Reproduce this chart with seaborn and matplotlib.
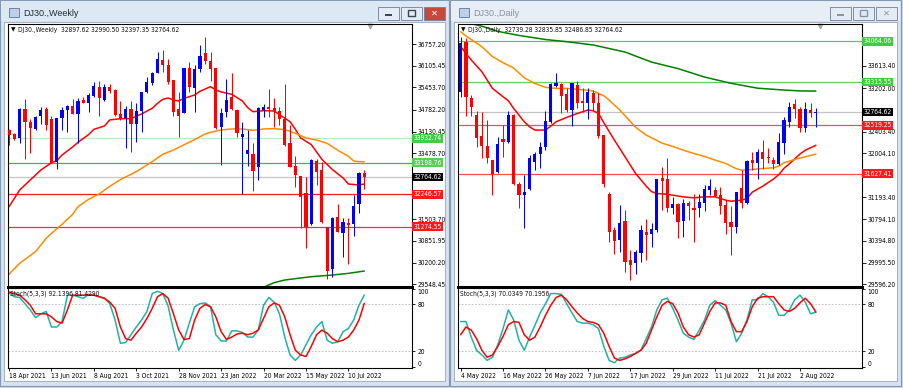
import numpy as np
import seaborn as sns
import matplotlib.pyplot as plt
import matplotlib.transforms as mtransforms
from matplotlib.patches import Rectangle
from matplotlib import font_manager
from matplotlib.font_manager import FontProperties

sns.set_style("white")
plt.rcParams['font.family'] = ['Liberation Sans', 'DejaVu Sans']

# narrow font for the small MT4-style labels, if one is installed
narrow = [f for f in font_manager.fontManager.ttflist
          if ('Narrow' in f.name or 'Condensed' in f.name
              or f.stretch in ('condensed', 'semi-condensed'))
          and f.style == 'normal' and f.weight in (400, 'normal', 'regular')]
if narrow:
    SMALL = FontProperties(fname=narrow[0].fname, size=4.8)
else:
    SMALL = FontProperties(family='Liberation Sans', size=4.6)

# ---------------- weekly DJ30 (18 Apr 2021 .. 31 Jul 2022) ----------------
w_open = [34178, 34058, 33948, 34808, 34418, 34208, 34598, 34808, 34498, 33228,
          34528, 34778, 34898, 34658, 35078, 34998, 35208, 35458, 35078, 35458,
          35378, 34648, 34528, 34808, 34348, 34758, 35318, 35598, 35898, 36268,
          36138, 35678, 34818, 34698, 36028, 35428, 36008, 36478, 36248, 36048,
          34278, 34708, 35178, 34778, 33958, 33458, 33458, 33078, 34778, 34858,
          34828, 34748, 34498, 33778, 33098, 32808, 32278, 31358, 33248, 32978,
          31278, 29998, 31558, 31098, 31398, 31348, 31948, 32897.62]
w_high = [34208, 34078, 34828, 35108, 34498, 34598, 34878, 34858, 34598, 34528,
          34878, 34928, 35098, 35128, 35178, 35298, 35628, 35658, 35548, 35558,
          35400, 35058, 34898, 35058, 34998, 35328, 35778, 35928, 36508, 36578,
          36298, 35678, 35318, 36028, 36228, 36128, 36728, 36978, 36528, 36048,
          34828, 35708, 35878, 34808, 34428, 34178, 33778, 34858, 34958, 35408,
          35128, 34878, 35548, 34328, 33398, 32808, 32778, 33298, 33308, 33228,
          31278, 31578, 31948, 31528, 31528, 32228, 32928, 32990.50]
w_low = [33728, 33878, 33778, 33298, 33478, 34178, 34348, 34178, 33198, 33018,
         34178, 34128, 34658, 33778, 34978, 34728, 35178, 34598, 35058, 35298,
         34600, 34478, 33628, 33528, 33828, 34128, 35298, 35528, 35878, 35928,
         35558, 34608, 33978, 34678, 35308, 34708, 35928, 36148, 35658, 34208,
         33128, 34578, 34778, 33978, 32248, 33098, 32348, 32678, 34558, 34578,
         34278, 34328, 33698, 33078, 32478, 31228, 30628, 31328, 32528, 31378,
         29698, 29778, 31108, 30378, 30148, 30998, 31698, 32397.35]
w_close = [34028, 33898, 34808, 34428, 34248, 34578, 34778, 34328, 33198, 34528,
           34768, 34898, 34658, 35048, 34998, 35218, 35498, 35128, 35458, 35358,
           34628, 34498, 34808, 34358, 34748, 35318, 35608, 35878, 36298, 36138,
           35628, 34708, 34598, 36028, 35478, 35998, 36408, 36248, 35998, 34228,
           34698, 35078, 34808, 34078, 34058, 33578, 32958, 34828, 34878, 34808,
           34748, 34498, 33728, 33078, 32828, 32178, 31278, 33278, 32928, 31428,
           29958, 31528, 31108, 31408, 31328, 31898, 32898, 32764.62]

w_red_x = [0, 2, 4, 6, 8, 9, 10, 12, 13, 15, 16, 18, 19, 21, 23, 25, 27, 28, 29, 30,
           31, 32, 33, 35, 36, 38, 39, 40, 42, 44, 45, 46, 48, 50, 51, 53, 54, 55, 57,
           59, 61, 63, 64, 66, 67]
w_red = [31878, 32378, 32678, 32978, 33198, 33258, 33430, 33670, 33808, 34040,
         34198, 34300, 34480, 34518, 34518, 34660, 34830, 34978, 35098, 35138,
         35078, 35050, 35128, 35228, 35340, 35478, 35380, 35320, 35250, 35050,
         34850, 34728, 34758, 34748, 34640, 34428, 34200, 33940, 33740, 33300,
         32990, 32740, 32558, 32530, 32558]
w_org_x = [0, 2, 5, 7, 8, 10, 12, 13, 15, 17, 19, 21, 24, 25, 27, 29, 31, 33, 35, 37,
           38, 40, 42, 44, 46, 48, 50, 52, 54, 56, 58, 60, 62, 64, 65, 66, 67]
w_org = [29858, 30178, 30530, 30930, 31078, 31350, 31650, 31878, 32100, 32260,
         32490, 32690, 32930, 33028, 33228, 33450, 33578, 33735, 33890, 34060,
         34108, 34180, 34208, 34208, 34170, 34210, 34220, 34190, 34080, 33940,
         33878, 33778, 33570, 33390, 33248, 33228, 33228]
w_grn_x = [48, 50, 52, 55, 57, 61, 64, 67]
w_grn = [29460, 29600, 29678, 29740, 29778, 29828, 29878, 29948]

w_k = [95, 90, 89, 81, 73, 63, 68, 71, 51, 51, 58, 92, 92, 90, 88, 93, 92, 90, 88, 81,
       60, 30, 31, 41, 51, 60, 71, 94, 97, 94, 78, 47, 21, 34, 56, 77, 81, 82, 77, 41,
       33, 33, 46, 46, 44, 38, 38, 47, 79, 89, 83, 68, 38, 15, 8, 15, 28, 41, 51, 58,
       34, 30, 32, 45, 49, 60, 79, 92.14]
w_d = [96, 94, 92, 86, 79, 68, 68, 68, 64, 58, 56, 73, 92, 92, 92, 92, 92, 90, 88, 83,
       75, 51, 36, 34, 43, 51, 62, 75, 90, 94, 88, 68, 47, 35, 36, 60, 75, 80, 77, 64,
       45, 35, 38, 42, 43, 41, 43, 47, 62, 77, 82, 79, 64, 41, 21, 15, 13, 26, 41, 47,
       43, 36, 32, 34, 38, 47, 60, 81.43]

w_levels = [(33932.74, '#b8ecb8', '#44cc44'), (33198.76, '#22cc22', '#55d055'),
            (32246.57, '#ff1a1a', '#ff1a1a'), (31274.55, '#ff3030', '#ff1a1a')]
w_yticks = [36757.20, 36105.45, 35453.70, 34782.20, 34130.45, 33478.70,
            31503.70, 30851.95, 30200.20, 29548.45]
w_dates = ['18 Apr 2021', '13 Jun 2021', '8 Aug 2021', '3 Oct 2021', '28 Nov 2021',
           '23 Jan 2022', '20 Mar 2022', '15 May 2022', '10 Jul 2022']

# ---------------- daily DJ30 (4 May 2022 .. 5 Aug 2022) ----------------
d_open = [33135, 34055, 33012, 32706, 32319, 32135, 31878, 31663, 32264, 32215,
          32706, 31448, 31246, 31356, 31847, 31988, 32123, 32571, 33239, 33276,
          33092, 32798, 33258, 32963, 32933, 33104, 32920, 32332, 31252, 30590,
          30406, 30755, 30038, 29989, 30173, 30559, 30516, 30590, 31553, 31522,
          31001, 31080, 30761, 31093, 31007, 31001, 31093, 31338, 31338, 31234,
          31050, 30743, 30651, 31369, 31093, 31878, 31829, 32019, 31939, 31878,
          31804, 32197, 32583, 32908, 32816, 32473, 32798, 32739.28]
d_high = [34147, 34116, 33074, 32785, 32767, 32614, 31878, 32307, 32522, 32779,
          32730, 31479, 31602, 31970, 32031, 32215, 32779, 33288, 33485, 33288,
          33196, 33301, 33337, 33196, 33196, 33166, 33104, 32332, 31295, 30651,
          31050, 30958, 30222, 30234, 30694, 30804, 30731, 31540, 31755, 31921,
          31203, 31093, 31172, 31130, 31264, 31264, 31418, 31540, 31387, 31387,
          31142, 31031, 31295, 31694, 31878, 32031, 32074, 32246, 32105, 31939,
          32368, 32663, 32951, 33000, 32859, 32939, 32933, 32835.85]
d_low = [33043, 32687, 32687, 32123, 31908, 31816, 31246, 31645, 31939, 32184,
         31420, 31007, 30633, 31338, 31694, 31737, 32062, 32552, 33227, 32749,
         32767, 32509, 32828, 32767, 32626, 32798, 32276, 31387, 30375, 30160,
         30191, 29823, 29682, 29792, 30007, 30038, 30283, 30559, 30958, 30927,
         30896, 30455, 30467, 30786, 30375, 30835, 30945, 31234, 31203, 30884,
         30516, 30142, 30547, 31001, 31080, 31694, 31540, 31724, 31816, 31706,
         31786, 31988, 32491, 32644, 32399, 32399, 32663, 32486.85]
d_close = [34024, 33043, 32847, 32276, 32141, 31921, 31614, 32166, 32215, 32706,
           31436, 31246, 31283, 31921, 31982, 32111, 32595, 33276, 33288, 33061,
           32798, 33288, 32933, 32933, 33123, 32933, 32319, 31436, 30559, 30394,
           30725, 30007, 29946, 30191, 30590, 30510, 30608, 31522, 31491, 31001,
           31068, 30743, 31093, 31031, 30970, 31111, 31356, 31399, 31215, 31031,
           30731, 30651, 31283, 31093, 31859, 31829, 32031, 31890, 31908, 31804,
           32203, 32614, 32859, 32816, 32460, 32810, 32749, 32764.62]

d_red_x = [0, 2, 4, 6, 8, 9, 10, 12, 13, 14, 16, 17, 18, 20, 22, 24, 25, 26, 27, 29,
           31, 33, 35, 36, 37, 39, 42, 44, 46, 48, 50, 51, 53, 54, 55, 57, 59, 60, 61,
           62, 64, 65, 67]
d_red = [33963, 33718, 33503, 33196, 33043, 32969, 32828, 32583, 32491, 32430,
         32430, 32503, 32583, 32663, 32736, 32798, 32785, 32736, 32565, 32246,
         31939, 31632, 31400, 31300, 31264, 31250, 31203, 31185, 31203, 31203,
         31142, 31123, 31142, 31172, 31290, 31400, 31530, 31610, 31730, 31810,
         31990, 32060, 32150]
d_org_x = [0, 1, 4, 6, 8, 10, 12, 14, 16, 18, 20, 22, 24, 25, 27, 28, 30, 32, 33, 35,
           37, 38, 40, 42, 44, 46, 48, 50, 52, 53, 55, 57, 59, 60, 61, 63, 65, 67]
d_org = [34239, 34160, 33963, 33780, 33670, 33570, 33390, 33288, 33215, 33196,
         33196, 33180, 33160, 33147, 33060, 32982, 32800, 32590, 32480, 32338,
         32240, 32190, 32130, 32060, 32000, 31945, 31878, 31816, 31720, 31694,
         31706, 31724, 31737, 31767, 31830, 31890, 31939, 31988]
d_grn_x = [0, 4, 7, 11, 16, 20, 25, 31, 36, 41, 46, 51, 56, 61, 64, 67]
d_grn = [34430, 34340, 34245, 34170, 34095, 34055, 33994, 33865, 33680, 33560,
         33405, 33290, 33200, 33166, 33150, 33147]

d_k = [58, 58, 38, 21, 15, 8, 12, 28, 49, 73, 60, 34, 21, 38, 53, 69, 81, 94, 94, 93,
       81, 69, 58, 56, 56, 54, 49, 26, 8, 5, 11, 12, 15, 17, 21, 36, 51, 73, 86, 88,
       75, 60, 43, 38, 35, 47, 60, 79, 85, 79, 73, 56, 32, 43, 60, 86, 86, 94, 90, 83,
       66, 66, 73, 86, 92, 83, 68, 70.03]
d_d = [41, 51, 47, 36, 21, 12, 15, 26, 39, 54, 58, 57, 41, 34, 38, 51, 66, 79, 89, 92,
       86, 77, 69, 62, 58, 57, 54, 43, 26, 11, 8, 10, 13, 17, 21, 30, 47, 64, 79, 84,
       81, 69, 51, 41, 38, 41, 56, 71, 82, 82, 79, 58, 45, 45, 58, 77, 88, 90, 90, 90,
       81, 73, 71, 75, 82, 88, 81, 70.20]

d_levels = [(34064.06, '#55cc55', '#3ccf3c'), (33315.55, '#66d066', '#3ccf3c'),
            (32519.25, '#ff5050', '#ff1a1a'), (31627.41, '#ff5050', '#ff1a1a')]
d_yticks = [33613.40, 33202.00, 32403.40, 32004.10,
            31193.40, 30794.10, 30394.80, 29995.50, 29596.20]
d_dates = ['4 May 2022', '16 May 2022', '26 May 2022', '7 Jun 2022', '17 Jun 2022',
           '29 Jun 2022', '11 Jul 2022', '21 Jul 2022', '2 Aug 2022']

last_price = 32764.62

# ---------------- figure & window chrome ----------------
W, H = 904, 388
fig = plt.figure(figsize=(W / 100, H / 100), dpi=100)
fig.patch.set_facecolor('#c9d8ea')

bg = fig.add_axes([0, 0, 1, 1])
bg.set_xlim(0, W)
bg.set_ylim(H, 0)
bg.axis('off')


def px_ax(x0, y0, x1, y1):
    return fig.add_axes([x0 / W, 1 - y1 / H, (x1 - x0) / W, (y1 - y0) / H])


def window(x0, x1, title, active):
    bg.add_patch(Rectangle((x0, 0), x1 - x0, 386, fc='#d6e2f0', ec='#8398b4', lw=0.8))
    bg.add_patch(Rectangle((x0 + 1, 1), x1 - x0 - 2, 20,
                           fc='#dde8f5' if active else '#e7eef6', ec='none'))
    bg.add_patch(Rectangle((x0 + 4, 22), x1 - x0 - 8, 359, fc='white', ec='#9aa8b8', lw=0.6))
    bg.add_patch(Rectangle((x0 + 9, 8), 10, 9, fc='#bcd0e8', ec='#5a78a0', lw=0.6))
    bg.text(x0 + 23, 13.5, title, fontsize=6.5, va='center',
            color='#1e2a38' if active else '#8893a2')
    for i in range(3):
        bx = x1 - 71 + i * 23
        close = i == 2
        fc = '#c9483c' if (close and active) else '#e3ebf5'
        bg.add_patch(Rectangle((bx, 7), 21, 13, fc=fc, ec='#6f7f99', lw=0.6))
        gc = 'white' if (close and active) else ('#3a4556' if active else '#8a94a3')
        if i == 0:
            bg.add_patch(Rectangle((bx + 7, 13.5), 7, 2, fc=gc, ec='none'))
        elif i == 1:
            bg.add_patch(Rectangle((bx + 7, 10), 7, 6, fc='none', ec=gc, lw=1))
        else:
            bg.text(bx + 10.5, 13.5, '\u2715', fontsize=6, ha='center', va='center',
                    color=gc, family=['DejaVu Sans'], fontweight='bold')


window(0, 449, 'DJ30.,Weekly', True)
window(450, 901, 'DJ30.,Daily', False)


# ---------------- chart helpers ----------------
def candles(ax, o, h, l, c, min_body):
    o, h, l, c = map(np.asarray, (o, h, l, c))
    x = np.arange(len(o))
    col = np.where(c >= o, '#0000ff', '#ff0000')
    ax.vlines(x, l, h, colors=col, lw=0.75, zorder=3)
    body = np.maximum(np.abs(c - o), min_body)
    ax.bar(x, body, bottom=np.minimum(o, c), width=0.6, color=col, lw=0, zorder=4)


def tag(ax, y, text, fc, tc='white'):
    tr = mtransforms.blended_transform_factory(ax.transAxes, ax.transData)
    ax.text(1.004, y, text, transform=tr, ha='left', va='center', color=tc,
            fontproperties=SMALL,
            bbox=dict(boxstyle='square,pad=0.2', fc=fc, ec='none'), clip_on=False, zorder=10)


def main_panel(box, xlim, ylim, o, h, l, c, red, org, grn, levels, yticks, header, min_body):
    ax = px_ax(*box)
    ax.set_xlim(*xlim)
    ax.set_ylim(*ylim)
    for sp in ax.spines.values():
        sp.set_color('black')
        sp.set_linewidth(0.8)
        sp.set_visible(True)
    ax.spines['bottom'].set_linewidth(2.2)
    for y, lc, _ in levels:
        ax.axhline(y, color=lc, lw=0.9, zorder=1)
    ax.axhline(last_price, color='#c4c4c4', lw=0.9, zorder=1)
    for (xs, ys), col in zip([red, org, grn], ['#ff0000', '#ff8c00', '#008000']):
        sns.lineplot(x=xs, y=ys, ax=ax, color=col, linewidth=1.1, estimator=None,
                     sort=False, legend=False, zorder=2)
    candles(ax, o, h, l, c, min_body)
    ax.set_xticks([])
    ax.yaxis.tick_right()
    ax.set_yticks(yticks)
    ax.set_yticklabels([f'{t:.2f}' for t in yticks], fontproperties=SMALL)
    ax.tick_params(axis='y', which='both', direction='out', length=3, width=0.6,
                   pad=1.2, colors='black', right=True, left=False)
    ax.set_xlabel('')
    ax.set_ylabel('')
    for y, _, tc in levels:
        tag(ax, y, f'{y:.2f}', tc)
    tag(ax, last_price, f'{last_price:.2f}', 'black')
    ax.text(0.008, 0.988, '\u25bc', transform=ax.transAxes, va='top', ha='left',
            fontsize=4.2, color='#101010', family=['DejaVu Sans'])
    ax.text(0.024, 0.988, header, transform=ax.transAxes, va='top', ha='left',
            color='#101010', fontproperties=SMALL)
    ax.plot([0.896], [0.992], marker='v', color='#a8a8a8', ms=3.2,
            transform=ax.transAxes, clip_on=False)
    return ax


def stoch_panel(box, xlim, k, d, dates, label):
    ax = px_ax(*box)
    x = np.arange(len(k))
    ax.axhline(80, color='#b8b8b8', lw=0.6, ls=(0, (2, 2)), zorder=1)
    ax.axhline(20, color='#b8b8b8', lw=0.6, ls=(0, (2, 2)), zorder=1)
    sns.lineplot(x=x, y=k, ax=ax, color='#20b2aa', linewidth=1.1, estimator=None,
                 sort=False, legend=False, zorder=2)
    sns.lineplot(x=x, y=d, ax=ax, color='#ff0000', linewidth=1.1, estimator=None,
                 sort=False, legend=False, zorder=3)
    ax.set_xlim(*xlim)
    ax.set_ylim(-1.8, 101.2)
    for sp in ax.spines.values():
        sp.set_color('black')
        sp.set_linewidth(0.8)
        sp.set_visible(True)
    ax.yaxis.tick_right()
    ax.set_yticks([100, 80, 20, 0])
    ylabs = ax.set_yticklabels(['100', '80', '20', '0'], fontproperties=SMALL)
    ylabs[0].set_va('top')
    ylabs[3].set_va('bottom')
    ax.set_xticks(np.arange(0, 65, 8))
    xlabs = ax.set_xticklabels(dates, fontproperties=SMALL)
    for t in xlabs:
        t.set_ha('left')
    ax.tick_params(axis='both', direction='out', length=2.5, width=0.6,
                   pad=1.2, colors='black', bottom=True, right=True, left=False)
    ax.set_xlabel('')
    ax.set_ylabel('')
    ax.text(0.006, 0.965, label, transform=ax.transAxes, va='top', ha='left',
            color='#101010', fontproperties=SMALL)
    return ax


main_panel((8, 24, 412, 287), (-0.2, 76.0), (29469, 37358),
           w_open, w_high, w_low, w_close,
           (w_red_x, w_red), (w_org_x, w_org), (w_grn_x, w_grn),
           w_levels, w_yticks,
           'DJ30.,Weekly  32897.62 32990.50 32397.35 32764.62', 30)
stoch_panel((8, 288, 412, 368), (-0.2, 76.0), w_k, w_d, w_dates,
            'Stoch(5,3,3) 92.1396 81.4290')

main_panel((458, 24, 862, 287), (-0.5, 75.7), (29546, 34380),
           d_open, d_high, d_low, d_close,
           (d_red_x, d_red), (d_org_x, d_org), (d_grn_x, d_grn),
           d_levels, d_yticks,
           'DJ30.,Daily  32739.28 32835.85 32486.85 32764.62', 18)
stoch_panel((458, 288, 862, 368), (-0.5, 75.7), d_k, d_d, d_dates,
            'Stoch(5,3,3) 70.0349 70.1956')

fig.savefig('out.png', dpi=100, facecolor=fig.get_facecolor())
